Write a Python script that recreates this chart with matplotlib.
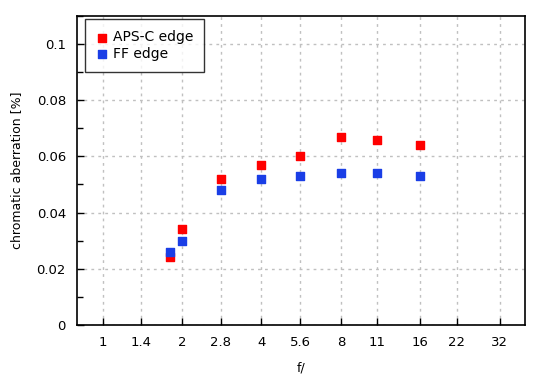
import matplotlib
matplotlib.use('Agg')
import matplotlib.pyplot as plt
from matplotlib.ticker import FixedLocator, MultipleLocator, NullLocator

fnum = [1.8, 2, 2.8, 4, 5.6, 8, 11, 16]
aps_c = [0.024, 0.034, 0.052, 0.057, 0.060, 0.067, 0.066, 0.064]
ff = [0.026, 0.030, 0.048, 0.052, 0.053, 0.054, 0.054, 0.053]
xticks = [1, 1.4, 2, 2.8, 4, 5.6, 8, 11, 16, 22, 32]
xlabels = ['1', '1.4', '2', '2.8', '4', '5.6', '8', '11', '16', '22', '32']

plt.rcParams['font.family'] = 'DejaVu Sans'
fig = plt.figure(figsize=(5.5, 3.8), dpi=100)
ax = fig.add_axes([0.14, 0.145, 0.815, 0.813])

ax.scatter(fnum, aps_c, marker='s', s=28, color='#ff0000', label='APS-C edge', zorder=3)
ax.scatter(fnum, ff, marker='s', s=28, color='#1a3ee6', label='FF edge', zorder=3)

ax.set_xscale('log', base=2)
ax.set_xlim(0.8, 40)
ax.set_ylim(0, 0.11)
ax.xaxis.set_major_locator(FixedLocator(xticks))
ax.xaxis.set_minor_locator(NullLocator())
ax.set_xticklabels(xlabels)
ax.yaxis.set_major_locator(FixedLocator([0, 0.02, 0.04, 0.06, 0.08, 0.1]))
ax.set_yticklabels(['0', '0.02', '0.04', '0.06', '0.08', '0.1'])
ax.yaxis.set_minor_locator(MultipleLocator(0.01))

ax.tick_params(direction='in', length=5, width=1, labelsize=9.5, pad=8, color='black')
ax.tick_params(which='minor', direction='in', length=4, width=1)
ax.grid(True, which='major', linestyle=(0, (2, 3)), color='#c0c0c0', linewidth=1)
for s in ax.spines.values():
    s.set_linewidth(1.2)

ax.set_xlabel('f/', fontsize=9, labelpad=9)
ax.set_ylabel('chromatic aberration [%]', fontsize=9, labelpad=10)

leg = ax.legend(loc='upper left', fontsize=10, frameon=True, fancybox=False,
                edgecolor='black', handlelength=0.8, handletextpad=0.4, borderpad=0.8,
                labelspacing=0.2, borderaxespad=0, bbox_to_anchor=(0.018, 0.99))
leg.get_frame().set_linewidth(1)

fig.savefig('out.png', dpi=100)
